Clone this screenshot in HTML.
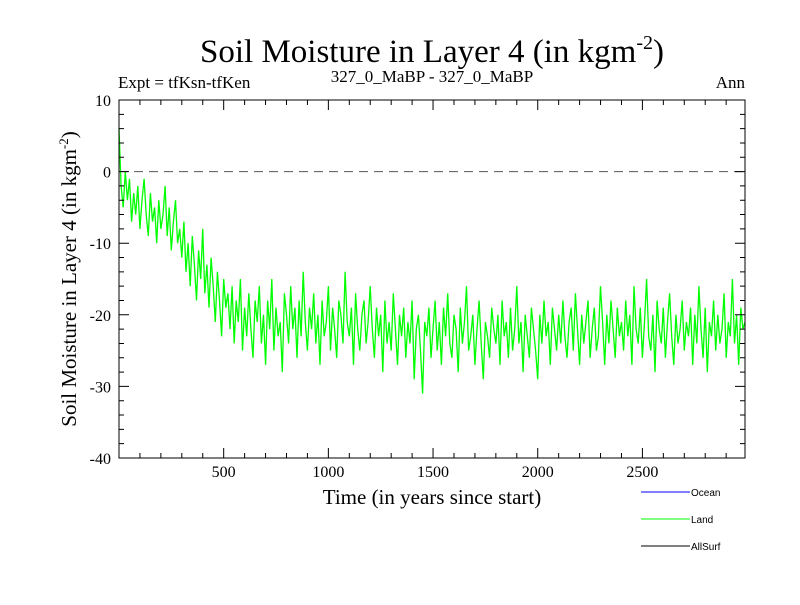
<!DOCTYPE html>
<html><head><meta charset="utf-8"><style>
body{margin:0;background:#fff}
svg text{font-family:"Liberation Serif",serif}
.lg{font-family:"Liberation Sans",sans-serif;font-size:10px}
</style></head><body>
<svg id="c" width="800" height="600" xmlns="http://www.w3.org/2000/svg">
<text x="432" y="62" font-size="33" text-anchor="middle">Soil Moisture in Layer 4 (in kgm<tspan font-size="20" dy="-13">-2</tspan><tspan dy="13">)</tspan></text>
<text x="118" y="88" font-size="17">Expt = tfKsn-tfKen</text>
<text x="432" y="82" font-size="17" text-anchor="middle">327_0_MaBP - 327_0_MaBP</text>
<text x="745" y="88" font-size="17" text-anchor="end">Ann</text>
<text x="432" y="504" font-size="21" text-anchor="middle">Time (in years since start)</text>
<text transform="translate(76,279) rotate(-90)" font-size="21" text-anchor="middle">Soil Moisture in Layer 4 (in kgm<tspan font-size="13" dy="-8">-2</tspan><tspan dy="8">)</tspan></text>
<g id="marks"></g>
<g id="axes"></g>
<g>
<line x1="641" y1="492" x2="690" y2="492" stroke="#0000ff"/><text class="lg" x="691" y="496">Ocean</text>
<line x1="641" y1="519" x2="690" y2="519" stroke="#00ff00"/><text class="lg" x="691" y="523">Land</text>
<line x1="641" y1="546" x2="690" y2="546" stroke="#000"/><text class="lg" x="691" y="550">AllSurf</text>
</g>
</svg>
<script>
const xTicks=[500,1000,1500,2000,2500];
const yTicks=[10,0,-10,-20,-30,-40];
const yearStep=10;
const landValues=[6,-2,-5,0,-4,-1,-7,-3,-6,-2,-8,-4,-1,-6,-9,-3,-7,-5,-10,-4,-8,-6,-2,-9,-5,-11,-7,-4,-10,-8,
-12,-7,-14,-10,-16,-9,-13,-18,-11,-15,-8,-17,-13,-19,-12,-16,-21,-14,-18,-23,-15,-19,-17,-22,-16,-24,-18,-21,-15,-25,
-19,-23,-17,-22,-26,-18,-21,-16,-24,-20,-27,-18,-22,-15,-25,-19,-23,-21,-28,-17,-20,-24,-16,-22,-19,-26,-18,-23,-14,-21,
-25,-19,-22,-17,-24,-20,-27,-18,-23,-21,-16,-25,-19,-22,-26,-18,-20,-24,-14,-21,-23,-19,-27,-17,-22,-25,-20,-18,-24,-21,
-16,-22,-26,-19,-23,-20,-28,-18,-24,-21,-25,-17,-22,-27,-20,-23,-19,-26,-21,-24,-18,-29,-22,-20,-25,-31,-21,-23,-19,-26,
-22,-18,-25,-21,-27,-19,-23,-17,-24,-26,-20,-22,-28,-19,-24,-21,-16,-25,-23,-20,-27,-22,-18,-24,-29,-21,-23,-26,-19,-22,
-24,-20,-27,-18,-23,-21,-26,-19,-25,-22,-16,-24,-21,-28,-20,-23,-26,-19,-22,-25,-29,-20,-24,-18,-23,-21,-27,-19,-22,-25,
-20,-24,-18,-23,-26,-21,-19,-25,-17,-22,-27,-20,-24,-21,-18,-26,-22,-19,-25,-23,-16,-21,-27,-20,-24,-18,-22,-26,-19,-23,
-21,-25,-18,-23,-20,-27,-16,-22,-24,-19,-26,-21,-15,-23,-25,-20,-28,-18,-22,-24,-19,-26,-21,-17,-23,-27,-20,-24,-22,-18,
-25,-21,-23,-19,-27,-20,-24,-16,-22,-26,-19,-28,-21,-23,-18,-25,-20,-24,-22,-17,-26,-21,-23,-15,-24,-20,-27,-19,-22,-21];
const X0=119,X1=745,Y0=100,Y1=458,XMAX=2990,YMIN=-40,YMAX=10;
const sx=v=>X0+(v/XMAX)*(X1-X0);
const sy=v=>Y0+(YMAX-v)/(YMAX-YMIN)*(Y1-Y0);
const NS="http://www.w3.org/2000/svg";
function mk(t,a,p){const e=document.createElementNS(NS,t);for(const k in a)e.setAttribute(k,a[k]);p.appendChild(e);return e;}
const marks=document.getElementById('marks'),axes=document.getElementById('axes');
const zl=mk('line',{x1:X0,x2:X1,y1:sy(0),y2:sy(0),stroke:'#555','stroke-dasharray':'9,6'},marks);


const pts=landValues.map((v,i)=>sx(i*yearStep).toFixed(1)+','+sy(v).toFixed(1)).join(' ');
const pl=mk('polyline',{points:pts,fill:'none',stroke:'#00ff00','stroke-width':1.3},marks);


const fr=mk('rect',{x:X0,y:Y0,width:X1-X0,height:Y1-Y0,fill:'none',stroke:'#000'},axes);


let d='';
for(let v=100;v<XMAX;v+=100){const x=sx(v),L=(v%500==0)?10:5;d+=`M${x},${Y1}v${-L}M${x},${Y0}v${L}`;}
for(let v=YMIN+2;v<YMAX;v+=2){const y=sy(v),L=(v%10==0)?10:5;d+=`M${X0},${y}h${L}M${X1},${y}h${-L}`;}
const tk=mk('path',{d:d,stroke:'#000',fill:'none'},axes);


xTicks.forEach(v=>{const t=mk('text',{x:sx(v),y:477,'font-size':16,'text-anchor':'middle'},axes);t.textContent=v;

});
yTicks.forEach(v=>{const t=mk('text',{x:111,y:sy(v)+6,'font-size':16,'text-anchor':'end'},axes);t.textContent=v;

});
</script>
</body></html>
